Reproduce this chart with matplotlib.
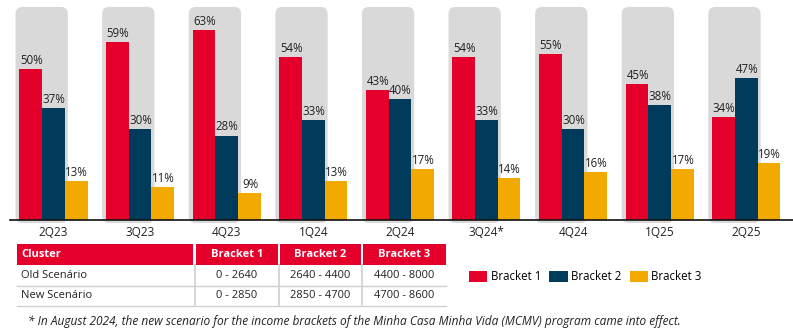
import matplotlib.pyplot as plt
from matplotlib.patches import FancyBboxPatch, Rectangle
import numpy as np

plt.rcParams['font.family'] = ['Open Sans', 'DejaVu Sans']

quarters = ["2Q23", "3Q23", "4Q23", "1Q24", "2Q24", "3Q24*", "4Q24", "1Q25", "2Q25"]
bracket1 = [50, 59, 63, 54, 43, 54, 55, 45, 34]
bracket2 = [37, 30, 28, 33, 40, 33, 30, 38, 47]
bracket3 = [13, 11, 9, 13, 17, 14, 16, 17, 19]
series_names = ["Bracket 1", "Bracket 2", "Bracket 3"]
colors = ["#E4002B", "#003B5C", "#F2A900"]

table_header = ["Cluster", "Bracket 1", "Bracket 2", "Bracket 3"]
table_rows = [["Old Scenário", "0 - 2640", "2640 - 4400", "4400 - 8000"],
              ["New Scenário", "0 - 2850", "2850 - 4700", "4700 - 8600"]]
footnote = ("* In August 2024, the new scenario for the income brackets of the "
            "Minha Casa Minha Vida (MCMV) program came into effect.")

W, H = 793, 336
fig = plt.figure(figsize=(W / 100, H / 100), dpi=100)

# overlay in pixel coordinates for table, footnote
ov = fig.add_axes([0, 0, 1, 1])
ov.set_xlim(0, W)
ov.set_ylim(H, 0)
ov.axis("off")

ax = fig.add_axes([10 / W, (H - 220) / H, 783 / W, 220 / H])
ax.patch.set_alpha(0)
xlo, xhi = -0.502, 8.54
ylo, yhi = 0, 72.9
ax.set_xlim(xlo, xhi)
ax.set_ylim(ylo, yhi)

x = np.arange(len(quarters))
w = 0.262
px_x = 783 / (xhi - xlo)
px_y = 220 / (yhi - ylo)

# gray rounded background per group
for xi in x:
    left = xi - 1.5 * w - 0.045
    right = xi + 0.5 * w + 0.035
    box = FancyBboxPatch((left, -1), right - left, 71.6,
                         boxstyle="round,pad=0,rounding_size=%f" % (7 / px_x),
                         mutation_aspect=px_x / px_y,
                         fc="#D9D9D9", ec="none", zorder=0, clip_on=False)
    ax.add_patch(box)

handles = []
for i, vals in enumerate([bracket1, bracket2, bracket3]):
    b = ax.bar(x + (i - 1) * w, vals, w, color=colors[i], label=series_names[i], zorder=2)
    handles.append(b)
    for xi, v in zip(x + (i - 1) * w, vals):
        ax.annotate(f"{v}%", (xi, v), xytext=(0.5, 1.5), textcoords="offset points",
                    ha="center", va="bottom", fontsize=8.3, color="#222222")

for s in ["top", "right", "left"]:
    ax.spines[s].set_visible(False)
ax.spines["bottom"].set_color("#111111")
ax.spines["bottom"].set_linewidth(1.2)
ax.spines["bottom"].set_zorder(3)
ax.set_yticks([])
ax.set_xticks(x)
ax.set_xticklabels(quarters, fontsize=8.5, color="#222222")
ax.tick_params(axis="x", length=0, pad=4)

# table
col_edges = [17, 195, 279, 362, 446]
row_edges = [244, 265, 286, 306]
red = colors[0]
for j in range(4):
    ov.add_patch(Rectangle((col_edges[j] + (1 if j else 0), row_edges[0]),
                           col_edges[j + 1] - col_edges[j] - (2 if j < 3 else 1),
                           row_edges[1] - row_edges[0], fc=red, ec="none"))
    tx = col_edges[j] + 4 if j == 0 else (col_edges[j] + col_edges[j + 1]) / 2
    ov.text(tx, (row_edges[0] + row_edges[1]) / 2, table_header[j], color="white",
            fontsize=8, fontweight="bold", ha="left" if j == 0 else "center", va="center")
for r, row in enumerate(table_rows):
    yc = (row_edges[r + 1] + row_edges[r + 2]) / 2
    for j, val in enumerate(row):
        tx = col_edges[j] + 4 if j == 0 else (col_edges[j] + col_edges[j + 1]) / 2
        ov.text(tx, yc, val, color="#222222", fontsize=8,
                ha="left" if j == 0 else "center", va="center")
    ov.plot([col_edges[0], col_edges[-1]], [row_edges[r + 2]] * 2, color="#D0D0D0", lw=1)
for xe in col_edges[1:4]:
    ov.plot([xe, xe], [row_edges[1], row_edges[3]], color="#D0D0D0", lw=1.2)

fig.legend(handles=handles, loc="center left", bbox_to_anchor=(469 / W, 1 - 277 / H),
           ncol=3, frameon=False, fontsize=8.3, handlelength=1.6, handleheight=1.1,
           handletextpad=0.3, columnspacing=0.7, borderpad=0, borderaxespad=0)

ov.text(28, 322, footnote, fontsize=8.6, style="italic", color="#222222",
        ha="left", va="center")

fig.savefig("out.png", dpi=100)
